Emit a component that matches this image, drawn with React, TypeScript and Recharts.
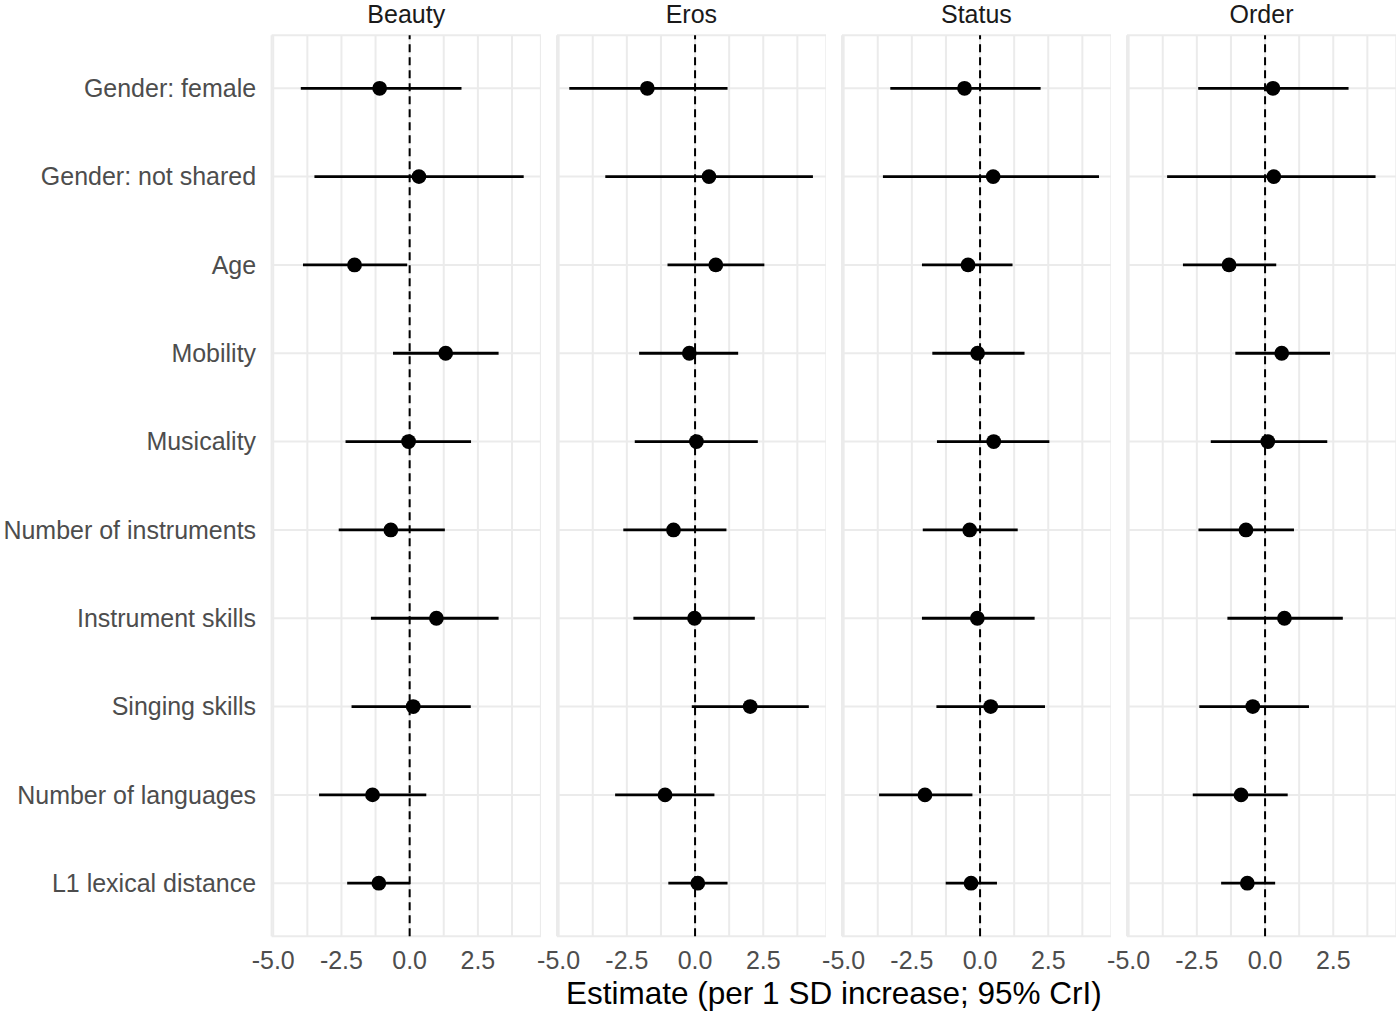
import { ScatterChart, Scatter, XAxis, YAxis, CartesianGrid, ReferenceLine, ErrorBar } from "recharts";

const categories = [
  "Gender: female",
  "Gender: not shared",
  "Age",
  "Mobility",
  "Musicality",
  "Number of instruments",
  "Instrument skills",
  "Singing skills",
  "Number of languages",
  "L1 lexical distance",
];

const facets = ["Beauty", "Eros", "Status", "Order"];

const beautyEst = [-1.10, 0.34, -2.02, 1.32, -0.04, -0.69, 0.98, 0.13, -1.36, -1.13];
const beautyLo = [-3.99, -3.49, -3.91, -0.61, -2.35, -2.60, -1.42, -2.13, -3.32, -2.29];
const beautyHi = [1.90, 4.18, -0.09, 3.26, 2.25, 1.29, 3.26, 2.24, 0.61, 0.0];

const erosEst = [-1.75, 0.51, 0.76, -0.21, 0.05, -0.79, -0.02, 2.02, -1.10, 0.10];
const erosLo = [-4.61, -3.29, -1.01, -2.05, -2.21, -2.63, -2.26, -0.12, -2.93, -0.98];
const erosHi = [1.19, 4.32, 2.54, 1.58, 2.30, 1.15, 2.19, 4.17, 0.71, 1.19];

const statusEst = [-0.57, 0.48, -0.44, -0.09, 0.50, -0.38, -0.10, 0.39, -2.02, -0.33];
const statusLo = [-3.29, -3.56, -2.13, -1.75, -1.58, -2.10, -2.13, -1.60, -3.70, -1.26];
const statusHi = [2.22, 4.36, 1.19, 1.63, 2.54, 1.38, 2.00, 2.38, -0.28, 0.62];

const orderEst = [0.29, 0.32, -1.32, 0.61, 0.10, -0.70, 0.71, -0.45, -0.88, -0.65];
const orderLo = [-2.45, -3.59, -3.01, -1.09, -1.99, -2.44, -1.38, -2.41, -2.65, -1.61];
const orderHi = [3.06, 4.05, 0.41, 2.38, 2.28, 1.06, 2.85, 1.61, 0.83, 0.37];

const xTicks = [-5, -3.75, -2.5, -1.25, 0, 1.25, 2.5, 3.75];
const majorTicks = [-5, -2.5, 0, 2.5];
const yTicks = [1, 2, 3, 4, 5, 6, 7, 8, 9, 10];

const series = [
  [beautyEst, beautyLo, beautyHi],
  [erosEst, erosLo, erosHi],
  [statusEst, statusLo, statusHi],
  [orderEst, orderLo, orderHi],
];

// layout
const FONT = '"Liberation Sans", Arial, Helvetica, sans-serif';
const PANEL_W = 269.3;
const PANEL_STEP = 285.1;
const FIRST_LEFT = 271.6;
const LABEL_W = FIRST_LEFT;
const PAD = 30; // room for the "-5.0" labels of panels 2-4
const TOP = 35.3;
const CHART_H = 1015;
const PLOT_H = 900.9;
const XAXIS_H = CHART_H - TOP - PLOT_H;

function buildRows(est: number[], lo: number[], hi: number[]) {
  return est.map((e, i) => ({
    x: e,
    y: i + 1,
    err: [e - lo[i], hi[i] - e],
  }));
}

const Dot = (props: any) => <circle cx={props.cx} cy={props.cy} r={7.4} fill="#000" />;

function Panel({ index }: { index: number }) {
  const [est, lo, hi] = series[index];
  const rows = buildRows(est, lo, hi);
  const first = index === 0;
  const left = first ? 0 : FIRST_LEFT + index * PANEL_STEP - PAD;
  const width = first ? LABEL_W + PANEL_W : PANEL_W + PAD;
  return (
    <div style={{ position: "absolute", left, top: 0 }}>
      <ScatterChart width={width} height={CHART_H} margin={{ top: TOP, right: 0, bottom: 0, left: first ? 0 : PAD }}>
        <CartesianGrid stroke="#EBEBEB" strokeWidth={2} />
        <XAxis
          type="number"
          dataKey="x"
          domain={[-5.06, 4.81]}
          allowDataOverflow
          ticks={xTicks}
          interval={0}
          tickFormatter={(v: number) => (majorTicks.includes(v) ? v.toFixed(1) : "")}
          axisLine={false}
          tickLine={false}
          tickSize={0}
          tickMargin={15}
          height={XAXIS_H}
          tick={{ fill: "#4D4D4D", fontSize: 25 }}
        />
        <YAxis
          type="number"
          dataKey="y"
          reversed
          domain={[0.4, 10.6]}
          ticks={yTicks}
          interval={0}
          hide={!first}
          width={first ? LABEL_W : 0}
          tickFormatter={(v: number) => categories[v - 1] ?? ""}
          axisLine={false}
          tickLine={false}
          tickSize={0}
          tickMargin={15.5}
          tick={{ fill: "#4D4D4D", fontSize: 25 }}
        />
        <ReferenceLine x={0} stroke="#000" strokeWidth={2} strokeDasharray="8 5" />
        <Scatter data={rows} shape={Dot} isAnimationActive={false}>
          <ErrorBar dataKey="err" direction="x" width={0} stroke="#000" strokeWidth={2.8} isAnimationActive={false} />
        </Scatter>
      </ScatterChart>
    </div>
  );
}

export default function App() {
  const panelsLeft = FIRST_LEFT;
  const panelsRight = FIRST_LEFT + 3 * PANEL_STEP + PANEL_W;
  return (
    <div style={{ position: "absolute", left: 0, top: 0, width: 1399, height: 1015, background: "#fff", fontFamily: FONT }}>
      {facets.map((f, i) => (
        <Panel key={f} index={i} />
      ))}
      <svg width={1399} height={1015} style={{ position: "absolute", left: 0, top: 0, pointerEvents: "none" }}>
        {facets.map((f, i) => (
          <text
            key={f}
            x={FIRST_LEFT + i * PANEL_STEP + PANEL_W / 2}
            y={23}
            textAnchor="middle"
            fontSize={25}
            fill="#1A1A1A"
            fontFamily={FONT}
          >
            {f}
          </text>
        ))}
        <text x={(panelsLeft + panelsRight) / 2} y={1004} textAnchor="middle" fontSize={31.5} fill="#000" fontFamily={FONT}>
          Estimate (per 1 SD increase; 95% CrI)
        </text>
      </svg>
    </div>
  );
}
